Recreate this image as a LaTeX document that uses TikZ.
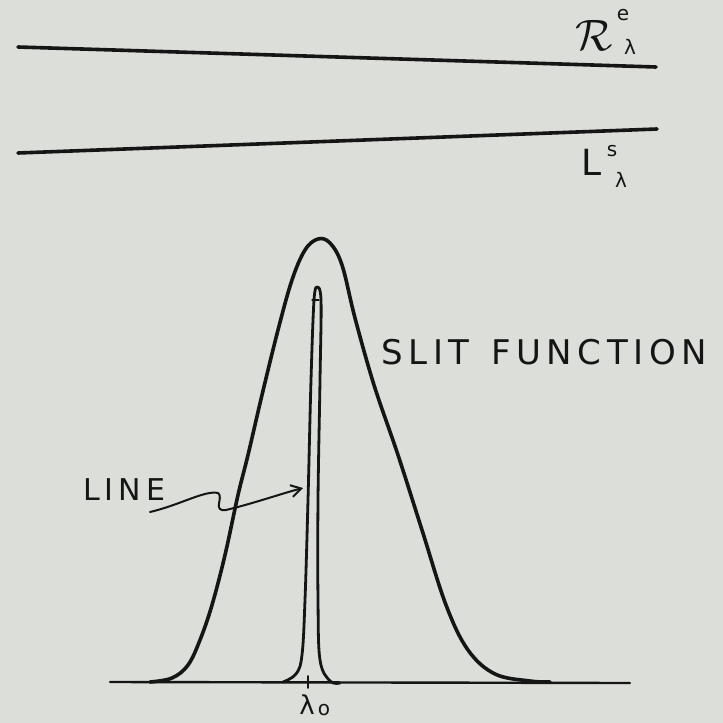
\documentclass[tikz,border=0pt]{standalone}
\usepackage{fontspec}
\newfontfamily\handfont{DejaVu Sans}
\usetikzlibrary{arrows.meta}
\definecolor{paper}{HTML}{DCDEDA}
\definecolor{ink}{HTML}{151515}
\begin{document}
\begin{tikzpicture}[x=1pt,y=-1pt,
  ink/.style={draw=ink,line cap=round,line join=round},
  lbl/.style={text=ink,inner sep=0pt,font=\handfont\fontsize{30}{30}\selectfont},
  sml/.style={text=ink,inner sep=0pt,font=\handfont\fontsize{20}{20}\selectfont}]
\fill[paper] (0,0) rectangle (723,723);
\useasboundingbox (0,0) rectangle (723,723);
% top lines
\coordinate (t1a) at (18,47); \coordinate (t1b) at (656,67);
\coordinate (t2a) at (18,153); \coordinate (t2b) at (657,129);
\draw[ink,line width=3.6pt] (t1a) -- (t1b);
\draw[ink,line width=3.6pt] (t2a) -- (t2b);
\node[text=ink,inner sep=0pt] (R) at (594,35) {\scalebox{4.4}{$\mathcal{R}$}};
\node[sml] (Re) at (623,15) {e};
\node[sml] (Rl) at (630,47) {λ};
\node[lbl,font=\handfont\fontsize{36}{36}\selectfont] (L) at (592,162) {L};
\node[sml] (Ls) at (612,151) {s};
\node[sml] (Ll) at (621,180) {λ};
% baseline
\coordinate (b0) at (110,682); \coordinate (b1) at (630,683);
\draw[ink,line width=2.4pt] (b0) -- (b1);
% tick
\coordinate (tk0) at (308,676); \coordinate (tk1) at (308,688);
\draw[ink,line width=1.8pt] (tk0) -- (tk1);
\node[lbl,font=\handfont\fontsize{26}{26}\selectfont] (l0) at (307,705) {λ};
\node[sml] (l0o) at (324,710) {o};
% slit function
\draw[ink,line width=3.6pt] plot[smooth,tension=0.6] coordinates {
 (150,682) (172,678) (188,665) (200,640) (212,605) (225,555) (238,495) (248,455)
 (262,395) (278,330) (292,280) (305,250) (318,239) (330,243) (342,265) (355,318)
 (374,385) (398,455) (422,530) (446,605) (468,650) (495,674) (530,681) (550,682)};
% line spike
\draw[ink,line width=2.8pt] plot[smooth,tension=0.6] coordinates {
 (283,682) (296,674) (302,655) (305,600) (308,500) (311,380) (314,300) (317,287)};
\draw[ink,line width=2.8pt] plot[smooth,tension=0.6] coordinates {
 (317,287) (321,300) (320,380) (318,500) (318,600) (320,660) (330,681) (340,683)};
\draw[ink,line width=1.2pt] (312,300) -- (319,300);
% labels
\node[lbl,anchor=west,font=\handfont\fontsize{34}{34}\selectfont] (slit) at (381,352) {S\,L\,I\,T\ \ F\,U\,N\,C\,T\,I\,O\,N};
\node[lbl,anchor=west] (line) at (83,490) {L\,I\,N\,E};
\coordinate (ls) at (150,512);
\draw[ink,line width=2pt,-{Straight Barb[length=10pt,width=12pt]}]
  (ls) .. controls (180,505) and (205,490) .. (218,493)
  .. controls (224,497) and (212,512) .. (226,510)
  .. controls (255,503) and (280,494) .. (303,488);
\end{tikzpicture}
\end{document}
